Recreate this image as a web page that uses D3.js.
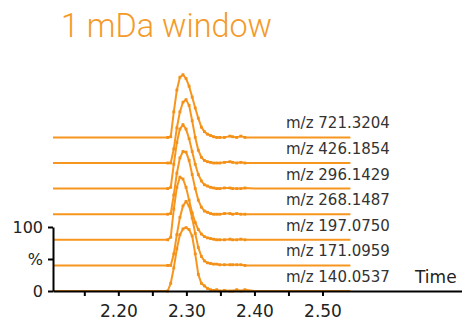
<!DOCTYPE html>
<html>
<head>
<meta charset="utf-8">
<script src="https://cdn.jsdelivr.net/npm/d3@7"></script>
<style>
  body { margin: 0; background: #fff; }
  svg { display: block; }
</style>
</head>
<body>
<div id="chart"></div>
<script>
// retention times (min), shared by all traces
var times = [2.104, 2.16, 2.22, 2.2725, 2.277, 2.2815, 2.286, 2.2905, 2.295, 2.2995,
  2.304, 2.3085, 2.313, 2.3175, 2.322, 2.3265, 2.331, 2.3355, 2.34, 2.3445, 2.349,
  2.356, 2.364, 2.368, 2.374, 2.38, 2.386, 2.40, 2.43, 2.46, 2.50, 2.541];

// relative intensity (%) per extracted ion, bottom to top
var mz140 = [0,0,0, 0,12,36,66,88,97,99,96,86,58,26,12,8,4,2,1,2,0, 1,0,0,2,0,2, 0,0,0,0,0];
var mz171 = [0,0,0, 0,0,18,48,75,93,100,93,74,50,28,14,7,4,3,2,2,1, 1,1,1,1,1,0, 0,0,0,0,0];
var mz197 = [0,0,0, 0,4,48,82,98,95,82,62,42,27,16,9,5,3,2,1,0,0, 0,1,0,0,1,0, 0,0,0,0,0];
var mz268 = [0,0,0, 0,1,30,64,88,98,97,84,62,40,22,11,5,3,1,0,0,0, 1,1,0,1,0,0, 0,0,0,0,0];
var mz296 = [0,0,0, 0,2,38,72,93,100,93,78,58,38,22,12,6,4,2,1,0,0, 1,1,0,0,0,1, 0,0,0,0,0];
var mz426 = [0,0,0, 0,0,22,55,80,95,99,90,66,40,20,9,4,2,1,0,0,0, 1,2,1,0,1,0, 0,0,0,0,0];
var mz721 = [0,0,0, 0,1,40,74,94,98,92,80,63,46,30,16,9,5,3,1,0,0, 0,2,1,0,2,0, 0,0,0,0,0];

var traceLabels = ["m/z 140.0537", "m/z 171.0959", "m/z 197.0750", "m/z 268.1487",
  "m/z 296.1429", "m/z 426.1854", "m/z 721.3204"];
var traceOffsets = [0, 40, 80, 120, 160, 200, 240]; // stacked, in % units
var xTicks = [2.15, 2.20, 2.25, 2.30, 2.35, 2.40, 2.45, 2.50];
var xTickLabels = ["2.20", "2.30", "2.40", "2.50"];
var yTicks = [0, 50, 100];
var yTickLabels = ["0", "%", "100"];
var title = "1 mDa window";

var series = [mz140, mz171, mz197, mz268, mz296, mz426, mz721];

var width = 462, height = 320;
var orange = "#f7961e";

var svg = d3.select("#chart")
  .append("svg")
  .attr("width", width)
  .attr("height", height);

var x = d3.scaleLinear()
  .domain([2.104, 2.705])
  .range([53, 462]);

var y = d3.scaleLinear()
  .domain([0, 100])
  .range([291, 227]);

// title - condensed look via textLength
svg.append("text")
  .attr("x", 61)
  .attr("y", 37)
  .attr("textLength", 211)
  .attr("lengthAdjust", "spacingAndGlyphs")
  .style("font-family", "Roboto, 'Open Sans', sans-serif")
  .style("font-weight", 300)
  .style("font-size", "33px")
  .style("fill", "#f49a2a")
  .text(title);

var line = d3.line()
  .x(function (d) { return x(d[0]); })
  .y(function (d) { return d[1]; });

series.forEach(function (vals, i) {
  var pts = times.map(function (t, j) { return [t, y(vals[j] + traceOffsets[i])]; });
  var g = svg.append("g").attr("class", "trace");
  g.append("path")
    .datum(pts)
    .attr("d", line)
    .attr("fill", "none")
    .attr("stroke", orange)
    .attr("stroke-width", 2)
    .attr("stroke-linejoin", "round");
  // sample markers only where the scans are dense (around the peak)
  g.selectAll("rect")
    .data(pts.filter(function (d) { return d[0] > 2.25 && d[0] < 2.39; }))
    .enter()
    .append("rect")
    .attr("x", function (d) { return x(d[0]) - 1.4; })
    .attr("y", function (d) { return d[1] - 1.4; })
    .attr("width", 2.8)
    .attr("height", 2.8)
    .attr("fill", "#f39018");

  svg.append("text")
    .attr("x", 286)
    .attr("y", y(traceOffsets[i]) - 9)
    .style("font-family", "'DejaVu Sans', Verdana, sans-serif")
    .style("font-size", "15px")
    .style("fill", "#333")
    .text(traceLabels[i]);
});

// axes on top of the traces
var xAxis = svg.append("g")
  .attr("transform", "translate(0,291)")
  .call(d3.axisBottom(x)
    .tickValues(xTicks)
    .tickSize(5)
    .tickSizeOuter(0)
    .tickPadding(9)
    .tickFormat(function (d) {
      var s = d.toFixed(2);
      return xTickLabels.indexOf(s) >= 0 ? s : "";
    }));

var yAxis = svg.append("g")
  .attr("transform", "translate(53,0)")
  .call(d3.axisLeft(y)
    .tickValues(yTicks)
    .tickSize(5)
    .tickSizeOuter(0)
    .tickPadding(5)
    .tickFormat(function (d, i) { return yTickLabels[i]; }));

[xAxis, yAxis].forEach(function (ax) {
  ax.select(".domain").attr("stroke", "#000").attr("stroke-width", 2);
  ax.selectAll(".tick line").attr("stroke", "#000").attr("stroke-width", 2);
  ax.selectAll("text")
    .style("font-family", "'DejaVu Sans', Verdana, sans-serif")
    .style("fill", "#222");
});
xAxis.selectAll("text").style("font-size", "17px");
yAxis.selectAll("text").style("font-size", "16px");

svg.append("text")
  .attr("x", 415)
  .attr("y", 283)
  .style("font-family", "'DejaVu Sans', Verdana, sans-serif")
  .style("font-size", "17px")
  .style("fill", "#222")
  .text("Time");
</script>
</body>
</html>
